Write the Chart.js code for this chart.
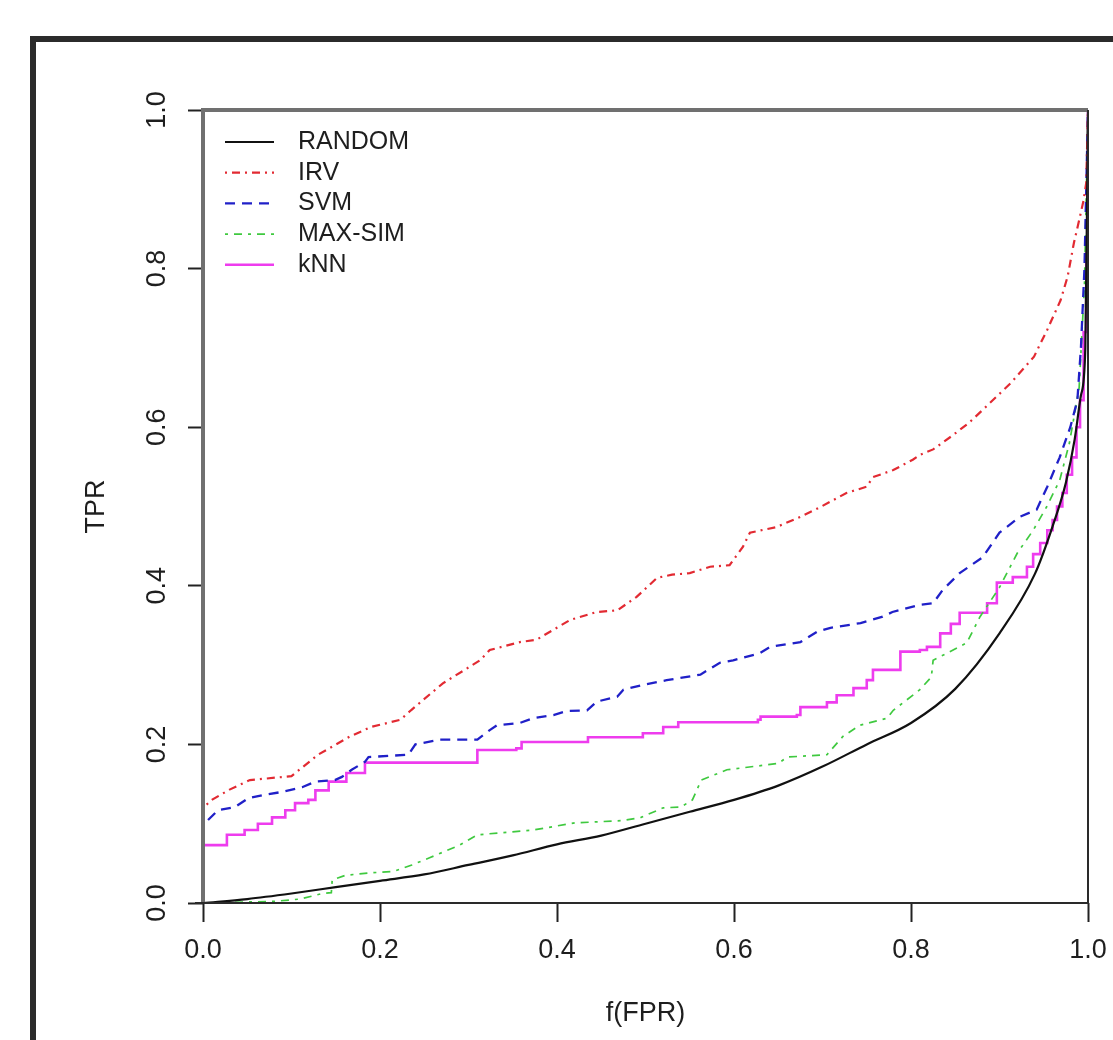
<!DOCTYPE html>
<html>
<head>
<meta charset="utf-8">
<title>ROC</title>
<script src="https://cdn.jsdelivr.net/npm/chart.js@4.4.1/dist/chart.umd.min.js"></script>
<style>
  html, body { margin: 0; padding: 0; background: #fff; }
</style>
</head>
<body>
<canvas id="roc" width="1113" height="1040"></canvas>
<script>
// x = f(FPR), y = TPR for each method
const randomX = [0, 0.05, 0.1, 0.15, 0.2, 0.25, 0.3, 0.35, 0.4, 0.45, 0.5, 0.55, 0.6, 0.65, 0.7, 0.75, 0.8, 0.85, 0.9, 0.94, 0.96, 0.975, 0.985, 0.992, 0.997, 1];
const randomY = [0, 0.005, 0.012, 0.02, 0.028, 0.036, 0.048, 0.06, 0.074, 0.085, 0.1, 0.115, 0.13, 0.148, 0.172, 0.2, 0.227, 0.27, 0.34, 0.415, 0.475, 0.53, 0.585, 0.64, 0.7, 1];

const irvX = [0, 0, 0.01, 0.03, 0.053, 0.1, 0.13, 0.166, 0.19, 0.223, 0.235, 0.271, 0.313, 0.324, 0.358, 0.377, 0.395, 0.415, 0.445, 0.468, 0.49, 0.513, 0.53, 0.55, 0.573, 0.595, 0.61, 0.618, 0.648, 0.675, 0.697, 0.727, 0.75, 0.757, 0.78, 0.802, 0.81, 0.825, 0.845, 0.865, 0.884, 0.913, 0.939, 0.954, 0.969, 0.977, 0.984, 0.99, 0.995, 0.998, 1];
const irvY = [0, 0.12, 0.13, 0.143, 0.155, 0.16, 0.187, 0.21, 0.222, 0.231, 0.243, 0.277, 0.306, 0.319, 0.329, 0.332, 0.344, 0.357, 0.367, 0.369, 0.386, 0.41, 0.414, 0.416, 0.424, 0.426, 0.449, 0.467, 0.474, 0.487, 0.499, 0.517, 0.525, 0.537, 0.546, 0.559, 0.565, 0.572, 0.588, 0.605, 0.625, 0.656, 0.689, 0.723, 0.76, 0.79, 0.832, 0.861, 0.886, 0.908, 1];

const svmX = [0, 0, 0.006, 0.017, 0.036, 0.051, 0.067, 0.089, 0.112, 0.127, 0.149, 0.157, 0.168, 0.183, 0.187, 0.232, 0.24, 0.268, 0.31, 0.324, 0.332, 0.358, 0.373, 0.396, 0.411, 0.434, 0.445, 0.468, 0.475, 0.497, 0.524, 0.562, 0.584, 0.599, 0.629, 0.641, 0.675, 0.694, 0.709, 0.743, 0.768, 0.779, 0.81, 0.825, 0.836, 0.855, 0.881, 0.9, 0.923, 0.942, 0.954, 0.968, 0.98, 0.988, 0.992, 0.996, 1];
const svmY = [0, 0.098, 0.105, 0.117, 0.121, 0.132, 0.136, 0.14, 0.146, 0.153, 0.155, 0.159, 0.168, 0.178, 0.184, 0.187, 0.2, 0.206, 0.206, 0.218, 0.224, 0.227, 0.233, 0.237, 0.242, 0.243, 0.254, 0.26, 0.269, 0.275, 0.281, 0.288, 0.303, 0.306, 0.315, 0.323, 0.329, 0.342, 0.347, 0.353, 0.361, 0.367, 0.376, 0.378, 0.395, 0.416, 0.436, 0.467, 0.487, 0.496, 0.525, 0.562, 0.6, 0.634, 0.7, 0.8, 1];

const maxsimX = [0, 0.08, 0.11, 0.135, 0.145, 0.146, 0.161, 0.19, 0.216, 0.236, 0.256, 0.29, 0.31, 0.373, 0.42, 0.475, 0.495, 0.52, 0.54, 0.553, 0.563, 0.592, 0.65, 0.66, 0.705, 0.723, 0.742, 0.773, 0.78, 0.81, 0.823, 0.825, 0.863, 0.878, 0.9, 0.92, 0.938, 0.953, 0.968, 0.979, 0.99, 0.996, 1];
const maxsimY = [0, 0.002, 0.005, 0.012, 0.013, 0.029, 0.035, 0.038, 0.04, 0.048, 0.057, 0.073, 0.086, 0.092, 0.101, 0.104, 0.108, 0.12, 0.121, 0.13, 0.155, 0.168, 0.176, 0.184, 0.187, 0.21, 0.224, 0.233, 0.243, 0.269, 0.285, 0.306, 0.328, 0.361, 0.398, 0.441, 0.47, 0.499, 0.533, 0.58, 0.65, 0.78, 1];

const knnX = [0, 0, 0.027, 0.047, 0.062, 0.078, 0.093, 0.104, 0.119, 0.127, 0.142, 0.162, 0.183, 0.31, 0.354, 0.36, 0.435, 0.497, 0.52, 0.537, 0.627, 0.63, 0.671, 0.675, 0.705, 0.716, 0.735, 0.75, 0.757, 0.773, 0.788, 0.81, 0.818, 0.833, 0.845, 0.855, 0.886, 0.897, 0.915, 0.931, 0.938, 0.946, 0.954, 0.96, 0.965, 0.971, 0.976, 0.982, 0.987, 0.991, 0.995, 0.998, 1];
const knnY = [0, 0.073, 0.086, 0.092, 0.1, 0.108, 0.117, 0.126, 0.13, 0.142, 0.153, 0.164, 0.177, 0.193, 0.195, 0.203, 0.209, 0.214, 0.222, 0.228, 0.231, 0.235, 0.237, 0.247, 0.253, 0.262, 0.271, 0.281, 0.294, 0.294, 0.317, 0.319, 0.323, 0.34, 0.352, 0.366, 0.378, 0.404, 0.411, 0.424, 0.44, 0.454, 0.47, 0.483, 0.5, 0.517, 0.54, 0.562, 0.6, 0.634, 0.72, 0.82, 1];

const methods = ['RANDOM', 'IRV', 'SVM', 'MAX-SIM', 'kNN'];
const tickVals = [0, 0.2, 0.4, 0.6, 0.8, 1.0];

function pts(xs, ys) {
  return xs.map((x, i) => ({ x: x, y: ys[i] }));
}

const FONT = '"Liberation Sans", Arial, Helvetica, sans-serif';
const INK = '#1e1e1e';

// white page + the heavy outer frame
const frame = {
  id: 'frame',
  beforeDraw(chart) {
    const ctx = chart.ctx;
    ctx.save();
    ctx.fillStyle = '#fff';
    ctx.fillRect(0, 0, chart.width, chart.height);
    ctx.restore();
  },
  afterDraw(chart) {
    const ctx = chart.ctx;
    ctx.save();
    ctx.strokeStyle = '#2b2b2b';
    ctx.lineWidth = 6;
    ctx.strokeRect(33, 39, 3000, 3000);
    ctx.restore();
  }
};

// plot box around the chart area
const plotBox = {
  id: 'plotBox',
  afterDatasetsDraw(chart) {
    const { ctx, chartArea: a } = chart;
    ctx.save();
    ctx.strokeStyle = '#707070';
    ctx.lineWidth = 4;
    ctx.beginPath();
    ctx.moveTo(a.left, a.bottom);
    ctx.lineTo(a.left, a.top);
    ctx.lineTo(a.right, a.top);
    ctx.stroke();
    ctx.strokeStyle = '#2a2a2a';
    ctx.lineWidth = 2;
    ctx.beginPath();
    ctx.moveTo(a.right, a.top);
    ctx.lineTo(a.right, a.bottom);
    ctx.lineTo(a.left - 8, a.bottom);
    ctx.stroke();
    ctx.restore();
  }
};

// legend in the top-left corner of the plot
const cornerLegend = {
  id: 'cornerLegend',
  afterDraw(chart) {
    const { ctx, chartArea: a } = chart;
    chart.data.datasets.forEach((ds, i) => {
      const y = a.top + 32 + i * 30.7;
      ctx.save();
      ctx.strokeStyle = ds.borderColor;
      ctx.lineWidth = ds.borderWidth;
      ctx.setLineDash(ds.borderDash || []);
      ctx.beginPath();
      ctx.moveTo(a.left + 22, y);
      ctx.lineTo(a.left + 71, y);
      ctx.stroke();
      ctx.setLineDash([]);
      ctx.fillStyle = INK;
      ctx.font = '25px ' + FONT;
      ctx.textBaseline = 'middle';
      ctx.fillText(ds.label, a.left + 95, y);
      ctx.restore();
    });
  }
};

const line = (label, data, color, width, dash) => ({
  label: label,
  data: data,
  showLine: true,
  borderColor: color,
  borderWidth: width,
  borderDash: dash,
  pointRadius: 0,
  fill: false,
  tension: 0
});

const datasets = [
  Object.assign(line(methods[0], pts(randomX, randomY), '#111111', 2.2, []), { cubicInterpolationMode: 'monotone' }),
  line(methods[1], pts(irvX, irvY), '#e22a32', 2.2, [2, 5, 8, 5]),
  line(methods[2], pts(svmX, svmY), '#2020c8', 2.3, [10, 7]),
  line(methods[3], pts(maxsimX, maxsimY), '#3fc93f', 1.7, [3, 6, 8, 6]),
  Object.assign(line(methods[4], pts(knnX, knnY), '#ee3cee', 2.6, []), { stepped: 'before' })
];

const tickFmt = v => Number(v).toFixed(1);

new Chart(document.getElementById('roc'), {
  type: 'scatter',
  data: { datasets: datasets },
  plugins: [frame, plotBox, cornerLegend],
  options: {
    responsive: false,
    animation: false,
    layout: { padding: { top: 110, right: 25, left: 0, bottom: 0 } },
    plugins: { legend: { display: false }, tooltip: { enabled: false } },
    scales: {
      x: {
        type: 'linear',
        position: 'bottom',
        min: 0,
        max: 1,
        afterBuildTicks: s => { s.ticks = tickVals.map(v => ({ value: v })); },
        afterFit: s => { s.height = 137; s.paddingLeft = 0; s.paddingRight = 0; },
        ticks: {
          callback: tickFmt,
          color: INK,
          font: { family: FONT, size: 27 },
          padding: 12,
          maxRotation: 0,
          autoSkip: false
        },
        grid: { drawOnChartArea: false, tickLength: 19, tickWidth: 2, tickColor: '#222' },
        border: { display: false },
        title: {
          display: true,
          text: 'f(FPR)',
          color: INK,
          font: { family: FONT, size: 27 },
          padding: { top: 0, bottom: 10 }
        }
      },
      y: {
        type: 'linear',
        position: 'left',
        min: 0,
        max: 1,
        afterBuildTicks: s => { s.ticks = tickVals.map(v => ({ value: v })); },
        afterFit: s => { s.width = 203; },
        ticks: {
          callback: tickFmt,
          color: INK,
          font: { family: FONT, size: 27 },
          minRotation: 90,
          maxRotation: 90,
          crossAlign: 'center',
          padding: 12,
          autoSkip: false
        },
        grid: { drawOnChartArea: false, tickLength: 15, tickWidth: 2, tickColor: '#222' },
        border: { display: false },
        title: {
          display: true,
          text: 'TPR',
          color: INK,
          font: { family: FONT, size: 27 },
          padding: { top: 80, bottom: 0 }
        }
      }
    }
  }
});
</script>
</body>
</html>
